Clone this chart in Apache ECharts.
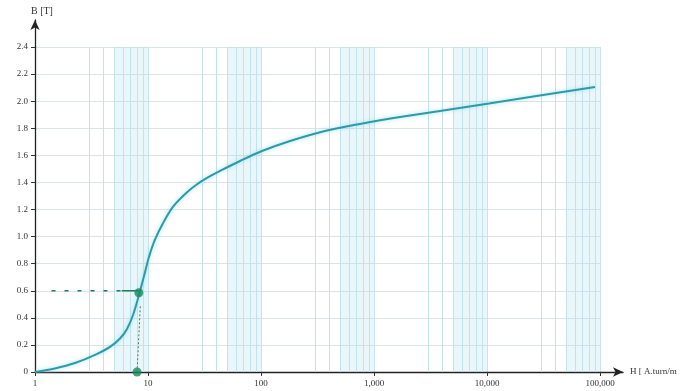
<!DOCTYPE html>
<html>
<head>
<meta charset="utf-8">
<script src="https://cdn.jsdelivr.net/npm/echarts@6/dist/echarts.min.js"></script>
<style>html,body{margin:0;padding:0;background:#fff}#c{width:680px;height:391px}</style>
</head>
<body>
<div id="c"></div>
<script>
// B-H magnetisation curve (H in A.turn/m, B in T)
const curveH = [1, 1.5, 2.26, 3.4, 4.61, 5.65, 6.52, 7.37, 8.32, 9.22, 10.2, 11.5, 13.6, 16.6, 21.3, 26.6, 33.3, 45.2, 65.2, 102, 181, 368, 752, 1700, 3840, 10400, 90300];
const curveB = [0, 0.026, 0.066, 0.126, 0.185, 0.247, 0.318, 0.421, 0.569, 0.709, 0.849, 0.975, 1.10, 1.219, 1.315, 1.381, 1.433, 1.492, 1.558, 1.632, 1.706, 1.78, 1.832, 1.883, 1.928, 1.983, 2.105];
const opPointH = 8.3, opPointB = 0.585;
const guideB = 0.6;
const guideStartH = 1.4;
const guideSolidH = 5.85;
const footH = 8.0;
const decades = [1, 10, 100, 1000, 10000];
const minorMult = [3, 4, 5, 6, 7, 8, 9];
const bandStartMult = 5;

const curve = curveH.map((h, i) => [h, curveB[i]]);
const minorLines = [];
decades.forEach(d => minorMult.forEach(m => minorLines.push({xAxis: m * d})));
const bands = decades.map(d => [{xAxis: bandStartMult * d}, {xAxis: 10 * d}]);

const fmtNum = v => String(Math.round(v)).replace(/\B(?=(\d{3})+(?!\d))/g, ',');
const font = 'Liberation Serif';

const chart = echarts.init(document.getElementById('c'));
chart.setOption({
  animation: false,
  textStyle: {fontFamily: font},
  grid: [
    {left: 35, right: 80, top: 47, bottom: 19},
    {left: 35, right: 57, top: 20, bottom: 19}
  ],
  xAxis: [
    {
      type: 'log', logBase: 10, min: 1, max: 100000, gridIndex: 0,
      axisLine: {show: false},
      axisTick: {show: true, length: 4, lineStyle: {color: '#333'}},
      axisLabel: {color: '#333', fontSize: 9, fontFamily: font, margin: 7, formatter: v => fmtNum(v)},
      splitLine: {show: true, lineStyle: {color: '#c9e4ed', width: 1}}
    },
    {
      type: 'value', min: 0, max: 1, gridIndex: 1,
      axisLine: {show: true, symbol: ['none', 'arrow'], symbolSize: [7, 10], lineStyle: {color: '#222', width: 1.3}},
      axisTick: {show: false}, axisLabel: {show: false}, splitLine: {show: false},
      name: 'H [ A.turn/m', nameLocation: 'end', nameGap: 7,
      nameTextStyle: {color: '#333', fontSize: 9, fontFamily: font}
    }
  ],
  yAxis: [
    {
      type: 'value', min: 0, max: 2.4, interval: 0.2, gridIndex: 0,
      axisLine: {show: false},
      axisTick: {show: true, length: 4, lineStyle: {color: '#333'}},
      axisLabel: {color: '#333', fontSize: 9, fontFamily: font, margin: 7,
        formatter: v => Math.abs(v) < 1e-9 ? '0' : v.toFixed(1)},
      splitLine: {show: true, lineStyle: {color: '#dbe4e8', width: 1}}
    },
    {
      type: 'value', min: 0, max: 1, gridIndex: 1,
      axisLine: {show: true, symbol: ['none', 'arrow'], symbolSize: [7, 10], lineStyle: {color: '#222', width: 1.3}},
      axisTick: {show: false}, axisLabel: {show: false}, splitLine: {show: false},
      name: 'B [T]', nameLocation: 'end', nameGap: 4,
      nameTextStyle: {color: '#333', fontSize: 10, fontFamily: font, align: 'left', padding: [0, 0, 0, -4]}
    }
  ],
  series: [
    {
      type: 'line', xAxisIndex: 0, yAxisIndex: 0, data: [[1, 0]], symbol: 'none',
      lineStyle: {opacity: 0}, silent: true, z: 1,
      markArea: {silent: true, itemStyle: {color: 'rgba(150,215,232,0.2)'}, data: bands},
      markLine: {silent: true, symbol: 'none', label: {show: false},
        lineStyle: {color: '#c4e2ec', width: 1, type: 'solid'}, data: minorLines}
    },
    {
      type: 'line', xAxisIndex: 0, yAxisIndex: 0, data: curve, smooth: 0.3,
      symbol: 'none',
      lineStyle: {color: '#2f9aa6', width: 2, shadowColor: 'rgba(120,220,240,0.8)', shadowBlur: 4},
      z: 5
    },
    {
      type: 'line', xAxisIndex: 0, yAxisIndex: 0,
      data: [[guideStartH, guideB], [guideSolidH, guideB]], symbol: 'none',
      lineStyle: {color: '#227a5e', width: 1.5, type: [4, 9]}, z: 6
    },
    {
      type: 'line', xAxisIndex: 0, yAxisIndex: 0,
      data: [[guideSolidH, guideB], [opPointH, guideB]], symbol: 'none',
      lineStyle: {color: '#227a5e', width: 1.5}, z: 6
    },
    {
      type: 'line', xAxisIndex: 0, yAxisIndex: 0,
      data: [[opPointH * 1.03, opPointB - 0.1], [footH, 0]], symbol: 'none',
      lineStyle: {color: '#3d7f6a', width: 1, type: [2, 2]}, z: 6
    },
    {
      type: 'scatter', xAxisIndex: 0, yAxisIndex: 0,
      data: [[opPointH, opPointB], [footH, 0]], symbolSize: 9,
      itemStyle: {color: '#178a5c'}, z: 7
    }
  ]
});
</script>
</body>
</html>
